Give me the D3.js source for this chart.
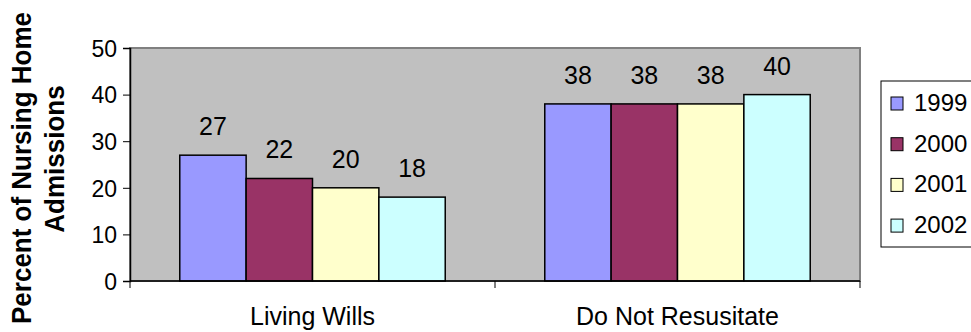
<!DOCTYPE html>
<html><head><meta charset="utf-8">
<script src="https://cdn.jsdelivr.net/npm/d3@7"></script>
<style>body{margin:0;background:#fff}svg{display:block}text{font-family:"Liberation Sans",Arial,sans-serif}</style>
</head><body>
<svg id="c" width="971" height="332"></svg>
<script>
const categories = ["Living Wills", "Do Not Resusitate"];
const years = ["1999", "2000", "2001", "2002"];
const values1999 = [27, 38];
const values2000 = [22, 38];
const values2001 = [20, 38];
const values2002 = [18, 40];
const yTicks = [0, 10, 20, 30, 40, 50];
const colors = ["#9999FF", "#993366", "#FFFFCC", "#CCFFFF"];

const series = [values1999, values2000, values2001, values2002];
const svg = d3.select("#c");
const L = 130, R = 860, T = 48, B = 281;

svg.append("rect").attr("x", L).attr("y", T).attr("width", R - L).attr("height", B - T)
  .attr("fill", "#C0C0C0").attr("stroke", "#808080").attr("stroke-width", 2);

const y = d3.scaleLinear().domain([0, 50]).range([B, T]);
const x0 = d3.scaleBand().domain(categories).range([L, R]).paddingInner(0).paddingOuter(0);
// Excel gap width 150%: group = 4 bars, gaps = 1.5 bar widths
const bw = x0.bandwidth() / 5.5;
const x1 = d3.scaleBand().domain(years).range([bw * 0.75, bw * 4.75]);

categories.forEach((c, ci) => {
  years.forEach((yr, si) => {
    const v = series[si][ci];
    const bx = x0(c) + x1(yr);
    svg.append("rect").attr("x", bx).attr("y", y(v)).attr("width", x1.bandwidth()).attr("height", B - y(v))
      .attr("fill", colors[si]).attr("stroke", "#000").attr("stroke-width", 1.5);
    svg.append("text").attr("x", bx + x1.bandwidth() / 2).attr("y", y(v) - 20).attr("text-anchor", "middle")
      .attr("font-size", 25).text(v);
  });
});

// Y axis
const yAxis = d3.axisLeft(y).tickValues(yTicks).tickSize(7).tickPadding(6);
const ya = svg.append("g").attr("transform", `translate(${L},0)`).call(yAxis);
ya.select(".domain").attr("stroke", "#000").attr("stroke-width", 1.5);
ya.selectAll(".tick line").attr("stroke", "#000");
ya.selectAll("text").attr("font-size", 23).attr("fill", "#000").attr("dy", "0.36em")
  .attr("font-family", '"Liberation Sans",Arial,sans-serif');

// X axis
const xa = svg.append("g").attr("transform", `translate(0,${B})`);
xa.append("line").attr("x1", L).attr("x2", R).attr("y1", 0).attr("y2", 0).attr("stroke", "#000").attr("stroke-width", 1.5);
[L, x0(categories[1]), R].forEach(t => xa.append("line").attr("x1", t).attr("x2", t).attr("y1", 0).attr("y2", 7).attr("stroke", "#000"));
categories.forEach(c => xa.append("text").attr("x", x0(c) + x0.bandwidth() / 2).attr("y", 44)
  .attr("text-anchor", "middle").attr("font-size", 25).text(c));

// Y title
svg.append("text").attr("transform", "translate(31,168) scale(1.06,1) rotate(-90)").attr("text-anchor", "middle")
  .attr("font-size", 26).attr("font-weight", "bold").text("Percent of Nursing Home");
svg.append("text").attr("transform", "translate(64,159) scale(1.06,1) rotate(-90)").attr("text-anchor", "middle")
  .attr("font-size", 26).attr("font-weight", "bold").text("Admissions");

// Legend
svg.append("rect").attr("x", 881).attr("y", 81).attr("width", 120).attr("height", 166)
  .attr("fill", "#fff").attr("stroke", "#000").attr("stroke-width", 1);
years.forEach((yr, i) => {
  const cy = 103.5 + i * 40.7;
  svg.append("rect").attr("x", 891).attr("y", cy - 6.5).attr("width", 12).attr("height", 13)
    .attr("fill", colors[i]).attr("stroke", "#000").attr("stroke-width", 1);
  svg.append("text").attr("x", 914).attr("y", cy + 7.5).attr("font-size", 24).text(yr);
});
</script>
</body></html>
